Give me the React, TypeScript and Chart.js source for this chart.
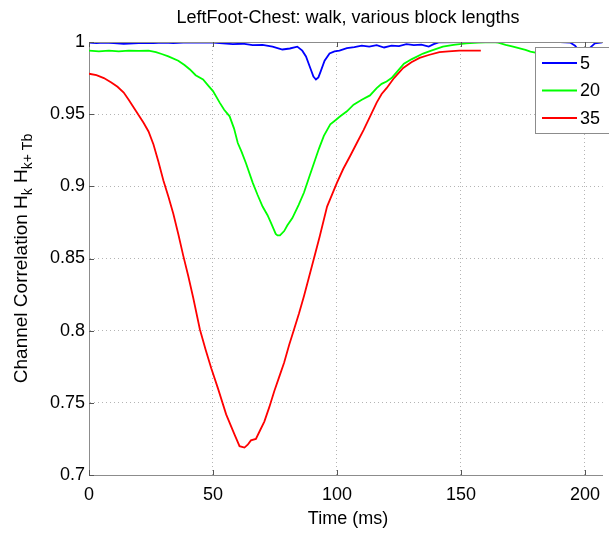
import { useEffect, useRef } from "react";
import { Chart, registerables } from "chart.js";

Chart.register(...registerables);

const chartTitle = "LeftFoot-Chest: walk, various block lengths";
const xAxisLabel = "Time (ms)";
const yLabelParts = ["Channel Correlation H", "k", " H", "k+ Tb"];
const seriesNames = ["5", "20", "35"];
const seriesColors = ["#0000ff", "#00ff00", "#ff0000"];
const xTickValues = [0, 50, 100, 150, 200];
const yTickValues = [0.7, 0.75, 0.8, 0.85, 0.9, 0.95, 1];

const t5 = [0, 3, 6, 10, 14, 18, 22, 26, 30, 34, 38, 42, 46, 50, 54, 58, 62, 66, 70, 74, 78, 81, 84, 86, 87.5, 89, 90.5, 91.5, 92.5, 93.5, 95, 97, 99, 101, 104, 107, 110, 113, 116, 119, 122, 125, 128, 131, 134, 137, 139, 141, 150, 160, 170, 180, 190, 194, 196, 198, 200, 202, 204, 207];
const v5 = [0.9996, 0.9993, 0.9995, 0.9992, 0.9988, 0.999, 0.9994, 0.9992, 0.9995, 0.9993, 0.9996, 0.9995, 0.9997, 0.9996, 0.999, 0.9985, 0.9988, 0.9978, 0.998, 0.9968, 0.9948, 0.9955, 0.9968, 0.994, 0.99, 0.983, 0.976, 0.974, 0.9755, 0.98, 0.987, 0.992, 0.9935, 0.994, 0.9957, 0.9965, 0.9975, 0.9968, 0.9978, 0.9962, 0.9975, 0.9972, 0.9985, 0.9978, 0.9982, 0.9968, 0.9985, 0.9998, 0.9999, 1.0, 0.9999, 1.0, 0.9999, 0.9996, 0.9975, 0.993, 0.992, 0.996, 0.999, 0.9997];

const t20 = [0, 4, 8, 12, 16, 20, 24, 27, 29.3, 32, 36, 38.5, 40.7, 43, 46, 48, 50, 52.7, 54.5, 56.7, 58.5, 60, 61.5, 63.3, 66, 68, 70, 72, 73.3, 75.3, 76, 77, 78.7, 80, 82, 84.5, 86.7, 88.7, 90.7, 92.7, 94.7, 97.3, 99.5, 101.3, 104, 106.7, 110, 113.3, 116, 118, 120, 122, 124, 127, 130, 134.7, 138, 142.7, 147, 152, 157, 162.7, 165, 168, 171, 173.3, 176, 178, 182, 190, 200, 207];
const v20 = [0.994, 0.9935, 0.994, 0.9935, 0.994, 0.9938, 0.994, 0.993, 0.9917, 0.99, 0.987, 0.984, 0.981, 0.977, 0.974, 0.97, 0.966, 0.958, 0.953, 0.9485, 0.94, 0.93, 0.924, 0.916, 0.9026, 0.894, 0.886, 0.88, 0.875, 0.867, 0.866, 0.866, 0.869, 0.873, 0.878, 0.887, 0.8957, 0.906, 0.916, 0.926, 0.935, 0.943, 0.946, 0.9485, 0.952, 0.9566, 0.96, 0.963, 0.968, 0.971, 0.9726, 0.975, 0.979, 0.985, 0.988, 0.992, 0.994, 0.9968, 0.998, 0.999, 0.9995, 1.0, 0.9995, 0.998, 0.9968, 0.9957, 0.9945, 0.9933, 0.992, 0.991, 0.99, 0.99];

const t35 = [0, 3, 6, 9, 11.5, 14, 16, 19, 22, 24, 26, 28, 30, 32, 34, 36, 38, 40, 42, 44.7, 47, 49.3, 52, 55.3, 58.7, 60.7, 62.7, 64, 65.3, 67.3, 69, 70.7, 72.7, 74.7, 76.7, 78.7, 80.7, 82.7, 84.7, 86.7, 88.7, 90.7, 93, 96, 100, 102.5, 105.3, 108, 110.7, 113.5, 116, 118, 120, 123, 126.7, 130, 133.3, 137, 141.3, 145, 149.3, 153, 158];
const v35 = [0.978, 0.977, 0.975, 0.972, 0.969, 0.965, 0.96, 0.952, 0.944, 0.938, 0.929, 0.917, 0.904, 0.893, 0.881, 0.867, 0.852, 0.838, 0.823, 0.801, 0.787, 0.774, 0.76, 0.742, 0.728, 0.72, 0.719, 0.721, 0.724, 0.725, 0.731, 0.737, 0.747, 0.758, 0.768, 0.778, 0.79, 0.801, 0.812, 0.824, 0.837, 0.85, 0.865, 0.886, 0.9025, 0.912, 0.921, 0.93, 0.939, 0.949, 0.958, 0.964, 0.968, 0.975, 0.982, 0.986, 0.989, 0.991, 0.993, 0.9935, 0.994, 0.994, 0.994];

const FONT = "'Liberation Sans', Arial, Helvetica, sans-serif";

const toPoints = (ts: number[], vs: number[]) => ts.map((t, i) => ({ x: t, y: vs[i] }));

const decorPlugin = {
  id: "matlabDecor",
  afterDraw(chart: any) {
    const { ctx, chartArea } = chart;
    const { left, top, right, bottom } = chartArea;
    const xs = chart.scales.x;
    const ys = chart.scales.y;
    ctx.save();
    // top frame line
    ctx.strokeStyle = "#8c8c8c";
    ctx.lineWidth = 1;
    ctx.beginPath();
    ctx.moveTo(left, top + 0.5);
    ctx.lineTo(right, top + 0.5);
    ctx.stroke();
    // inward ticks
    ctx.strokeStyle = "#555";
    ctx.beginPath();
    yTickValues.forEach((v) => {
      const py = Math.round(ys.getPixelForValue(v)) + 0.5;
      ctx.moveTo(left, py);
      ctx.lineTo(left + 5, py);
    });
    xTickValues.forEach((v) => {
      const px = Math.round(xs.getPixelForValue(v)) + 0.5;
      ctx.moveTo(px, bottom);
      ctx.lineTo(px, bottom - 5);
      ctx.moveTo(px, top);
      ctx.lineTo(px, top + 5);
    });
    ctx.stroke();

    // legend
    const lx = 535, ly = 47, lw = 110, lh = 86;
    ctx.fillStyle = "#ffffff";
    ctx.fillRect(lx, ly, lw, lh);
    ctx.strokeStyle = "#8c8c8c";
    ctx.strokeRect(lx + 0.5, ly + 0.5, lw, lh);
    ctx.font = `18px ${FONT}`;
    ctx.textBaseline = "middle";
    ctx.textAlign = "left";
    seriesNames.forEach((name, i) => {
      const ey = ly + 16 + i * 27.5;
      ctx.strokeStyle = seriesColors[i];
      ctx.lineWidth = 1.8;
      ctx.beginPath();
      ctx.moveTo(lx + 7, ey);
      ctx.lineTo(lx + 42, ey);
      ctx.stroke();
      ctx.fillStyle = "#000";
      ctx.fillText(name, lx + 45, ey + 1);
    });

    // title
    const cx = (left + 607) / 2;
    ctx.fillStyle = "#000";
    ctx.textAlign = "center";
    ctx.font = `18px ${FONT}`;
    ctx.fillText(chartTitle, cx, 18);
    // x label
    ctx.fillText(xAxisLabel, cx, 519);

    // y label with subscripts
    const mainFont = `19px ${FONT}`;
    const subFont = `14px ${FONT}`;
    const widths = yLabelParts.map((p, i) => {
      ctx.font = i % 2 === 1 ? subFont : mainFont;
      return ctx.measureText(p).width;
    });
    const total = widths.reduce((a, b) => a + b, 0);
    ctx.translate(22, (top + bottom) / 2);
    ctx.rotate(-Math.PI / 2);
    ctx.textAlign = "left";
    let x0 = -total / 2;
    yLabelParts.forEach((p, i) => {
      const sub = i % 2 === 1;
      ctx.font = sub ? subFont : mainFont;
      ctx.fillText(p, x0, sub ? 6 : 0);
      x0 += widths[i];
    });
    ctx.restore();
  },
};

export default function App() {
  const ref = useRef<HTMLCanvasElement>(null);
  useEffect(() => {
    if (!ref.current) return;
    const datasets = [toPoints(t5, v5), toPoints(t20, v20), toPoints(t35, v35)].map((d, i) => ({
      label: seriesNames[i],
      data: d,
      borderColor: seriesColors[i],
      backgroundColor: seriesColors[i],
      borderWidth: 1.8,
      pointRadius: 0,
      tension: 0,
      fill: false,
    }));
    const chart = new Chart(ref.current, {
      type: "line",
      data: { datasets },
      plugins: [decorPlugin],
      options: {
        responsive: false,
        animation: false,
        devicePixelRatio: 1,
        layout: { padding: { top: 42, left: 0, right: 0, bottom: 0 } },
        plugins: { legend: { display: false }, title: { display: false }, tooltip: { enabled: false } },
        scales: {
          x: {
            type: "linear",
            min: 0,
            max: 207.2,
            afterBuildTicks: (s: any) => {
              s.ticks = xTickValues.map((v) => ({ value: v }));
            },
            afterFit: (s: any) => {
              s.height = 59;
            },
            grid: { color: "#b4b4b4", drawTicks: false },
            border: { color: "#8c8c8c", width: 1, dash: [1, 3] } as any,
            ticks: { color: "#000", font: { family: FONT, size: 18 }, padding: 9, maxRotation: 0, autoSkip: false },
          },
          y: {
            type: "linear",
            min: 0.7,
            max: 1,
            afterBuildTicks: (s: any) => {
              s.ticks = yTickValues.map((v) => ({ value: v }));
            },
            afterFit: (s: any) => {
              s.width = 89;
            },
            grid: { color: "#b4b4b4", drawTicks: false },
            border: { color: "#8c8c8c", width: 1, dash: [1, 3] } as any,
            ticks: {
              color: "#000",
              font: { family: FONT, size: 18 },
              padding: 4,
              autoSkip: false,
              callback: (v: any) => String(Math.round(Number(v) * 100) / 100),
            },
          },
        },
      } as any,
    });
    return () => chart.destroy();
  }, []);
  return (
    <canvas
      ref={ref}
      width={609}
      height={534}
      style={{ position: "absolute", left: 0, top: 0, width: 609, height: 534 }}
    />
  );
}
